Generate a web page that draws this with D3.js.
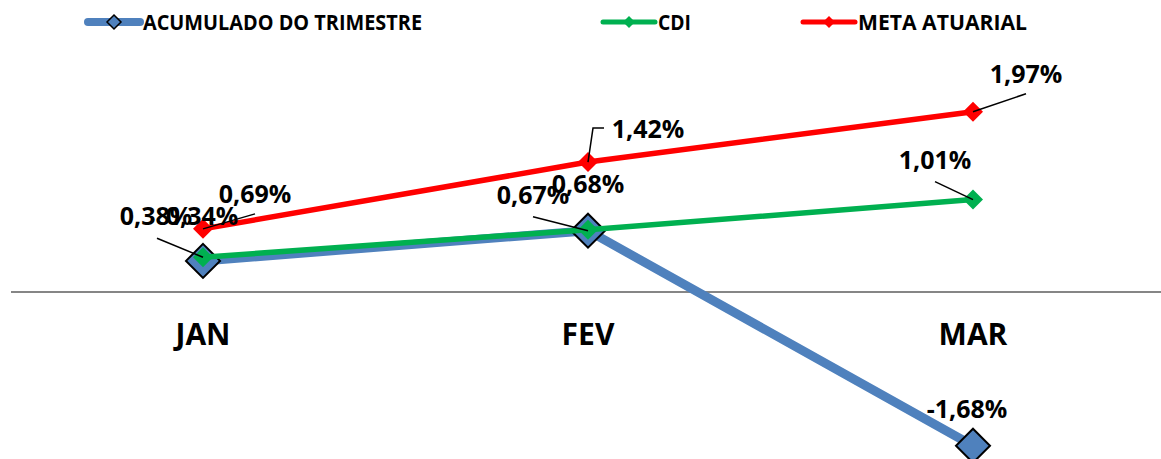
<!DOCTYPE html>
<html>
<head>
<meta charset="utf-8">
<script src="https://cdn.jsdelivr.net/npm/d3@7"></script>
<style>
  body { margin: 0; background: #fff; }
  text { font-family: "Open Sans", "Noto Sans", sans-serif; font-weight: bold; fill: #000; }
</style>
</head>
<body>
<div id="chart-area"></div>
<script>
// DATA
var months = ["JAN", "FEV", "MAR"];
var acumulado = [0.34, 0.67, -1.68];
var cdi = [0.38, 0.68, 1.01];
var meta = [0.69, 1.42, 1.97];
var seriesNames = ["ACUMULADO DO TRIMESTRE", "CDI", "META ATUARIAL"];

var width = 1161, height = 459;

var svg = d3.select("#chart-area")
    .append("svg")
    .attr("width", width)
    .attr("height", height);

// X SCALE - one band per month, point in the middle
var x = d3.scalePoint()
    .domain(months)
    .range([10.5, 1165.5])
    .padding(0.5);

// Y SCALE
var y = d3.scaleLinear()
    .domain([-1.8, 2.2])
    .range([292 + 1.8 * 91.5, 292 - 2.2 * 91.5]);

// pt-BR style: comma decimal, plain hyphen for negatives
var fmt = function (v) { return d3.format(".2f")(v).replace(".", ",").replace("\u2212", "-") + "%"; };

function diamond(r) {
    return "M0," + (-r) + "L" + r + ",0L0," + r + "L" + (-r) + ",0Z";
}

// ZERO AXIS
var xAxis = d3.axisBottom(x).tickSize(0).tickPadding(0).tickFormat("");
var xAxisGroup = svg.append("g")
    .attr("transform", "translate(0," + y(0) + ")")
    .call(xAxis);
xAxisGroup.select(".domain")
    .attr("d", "M11,0H1161")
    .attr("stroke", "#868686")
    .attr("stroke-width", 2);

// MONTH LABELS
svg.selectAll(".month")
    .data(months)
    .enter()
    .append("text")
    .attr("class", "month")
    .attr("x", function (d) { return x(d); })
    .attr("y", 345)
    .attr("text-anchor", "middle")
    .attr("font-size", "30px")
    .text(function (d) { return d; });

var series = [
    { name: seriesNames[0], values: acumulado, color: "#4F81BD", width: 9, r: 17, stroke: "#000" },
    { name: seriesNames[1], values: cdi, color: "#00B050", width: 5.5, r: 10, stroke: "none" },
    { name: seriesNames[2], values: meta, color: "#FF0000", width: 5.5, r: 10, stroke: "none" }
];

var line = d3.line()
    .x(function (d, i) { return x(months[i]); })
    .y(function (d) { return y(d); });

series.forEach(function (s) {
    svg.append("path")
        .attr("d", line(s.values))
        .attr("fill", "none")
        .attr("stroke", s.color)
        .attr("stroke-width", s.width)
        .attr("stroke-linejoin", "round");

    svg.selectAll(null)
        .data(s.values)
        .enter()
        .append("path")
        .attr("d", diamond(s.r))
        .attr("transform", function (d, i) { return "translate(" + x(months[i]) + "," + y(d) + ")"; })
        .attr("fill", s.color)
        .attr("stroke", s.stroke)
        .attr("stroke-width", 2);
});

// DATA LABELS (offsets from the point: label centre / baseline, leader start)
var labelDx = [[-1, -55, -6], [-47, 0, -38], [52, 60, 53]];
var labelDy = [[-36, -27, -28], [-32, -37, -31], [-26, -24, -29]];
var leaders = [
    [null, [[-55, -14]], null],
    [[[-46, -19]], null, [[-38, -18]]],
    [[[52, -15]], [[16, -34], [5, -34]], [[53, -18]]]
];

series.forEach(function (s, si) {
    s.values.forEach(function (v, i) {
        var px = x(months[i]), py = y(v);
        var ld = leaders[si][i];
        if (ld) {
            var pts = ld.map(function (p) { return [px + p[0], py + p[1]]; });
            pts.push([px, py]);
            svg.append("path")
                .attr("d", d3.line()(pts))
                .attr("fill", "none")
                .attr("stroke", "#000")
                .attr("stroke-width", 1.5);
        }
        svg.append("text")
            .attr("x", px + labelDx[si][i])
            .attr("y", py + labelDy[si][i])
            .attr("text-anchor", "middle")
            .attr("font-size", "25px")
            .text(fmt(v));
    });
});

// LEGEND
var legendX = [88, 603, 803];
var legendW = [279, 33, 169];
var legend = svg.selectAll(".legend")
    .data(series)
    .enter()
    .append("g")
    .attr("class", "legend")
    .attr("transform", function (d, i) { return "translate(" + legendX[i] + ",22)"; });

legend.append("line")
    .attr("x1", 0).attr("x2", 52)
    .attr("stroke", function (d) { return d.color; })
    .attr("stroke-width", function (d, i) { return i === 0 ? 8 : 5; })
    .attr("stroke-linecap", "round");

legend.append("path")
    .attr("d", function (d, i) { return diamond(i === 0 ? 7 : 6); })
    .attr("transform", "translate(26,0)")
    .attr("fill", function (d) { return d.color; })
    .attr("stroke", function (d) { return d.stroke; })
    .attr("stroke-width", 1.5);

legend.append("text")
    .attr("x", 55)
    .attr("y", 8)
    .attr("font-size", "22px")
    .attr("textLength", function (d, i) { return legendW[i]; })
    .attr("lengthAdjust", "spacingAndGlyphs")
    .text(function (d) { return d.name; });
</script>
</body>
</html>
